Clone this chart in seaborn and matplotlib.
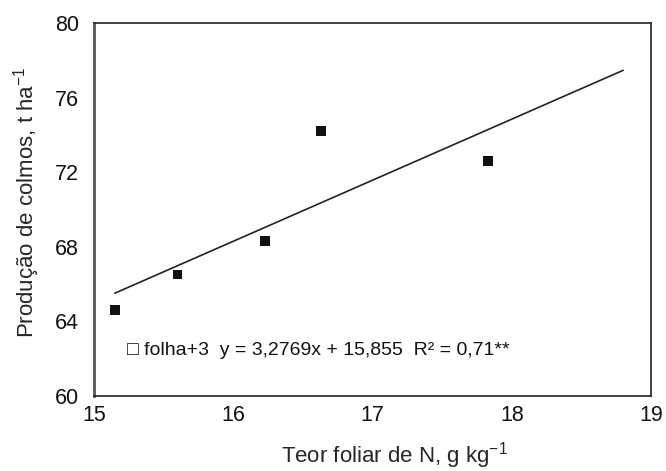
import numpy as np
import pandas as pd
import seaborn as sns
import matplotlib
matplotlib.use("Agg")
import matplotlib.pyplot as plt

# data
teor_n = [15.15, 15.60, 16.23, 16.63, 17.83]
producao = [64.6, 66.5, 68.3, 74.2, 72.6]

# Excel linear trendline (forecast forward to 18.8)
slope = 3.2769
intercept = 15.855
trend_end = 18.8

x_ticks = [15, 16, 17, 18, 19]
y_ticks = [60, 64, 68, 72, 76, 80]

sns.set_style("white")
plt.rcParams["font.family"] = ["Liberation Sans", "DejaVu Sans"]
plt.rcParams["mathtext.fontset"] = "custom"
plt.rcParams["mathtext.rm"] = "Liberation Sans"
plt.rcParams["mathtext.it"] = "Liberation Sans:italic"

df = pd.DataFrame({"x": teor_n, "y": producao})
trend_x = np.array([min(teor_n), trend_end])
trend = pd.DataFrame({"x": trend_x, "y": slope * trend_x + intercept})

fig = plt.figure(figsize=(6.66, 4.71), dpi=100)
ax = fig.add_axes([0.1411, 0.1599, 0.8364, 0.7913])

sns.lineplot(data=trend, x="x", y="y", color="#222222", linewidth=1.2, ax=ax)
sns.scatterplot(data=df, x="x", y="y", marker="s", s=48, color="#111111",
                edgecolor="none", ax=ax, zorder=3)

ax.set_xlim(15, 19)
ax.set_ylim(60, 80)
ax.set_xticks(x_ticks)
ax.set_yticks(y_ticks)
ax.tick_params(length=0, labelsize=15.5, colors="#111111")
ax.tick_params(axis="x", pad=7)
ax.tick_params(axis="y", pad=11)

ax.set_xlabel(r"Teor foliar de N, g kg$^{\mathregular{-1}}$", fontsize=16)
ax.set_ylabel(r"Produção de colmos, t ha$^{\mathregular{-1}}$", fontsize=16)
ax.xaxis.set_label_coords(0.54, -0.178)
ax.xaxis.label.set_va("baseline")
ax.yaxis.set_label_coords(-0.093, 0.52)

for side in ["top", "right", "bottom"]:
    ax.spines[side].set_color("#222222")
    ax.spines[side].set_linewidth(1.2)
ax.spines["left"].set_color("#555555")
ax.spines["left"].set_linewidth(2)

ax.text(0.059, 0.12, "□ folha+3  y = 3,2769x + 15,855  R² = 0,71**",
        transform=ax.transAxes, fontsize=14, va="center", ha="left",
        color="#111111")

fig.savefig("out.png", dpi=100)
